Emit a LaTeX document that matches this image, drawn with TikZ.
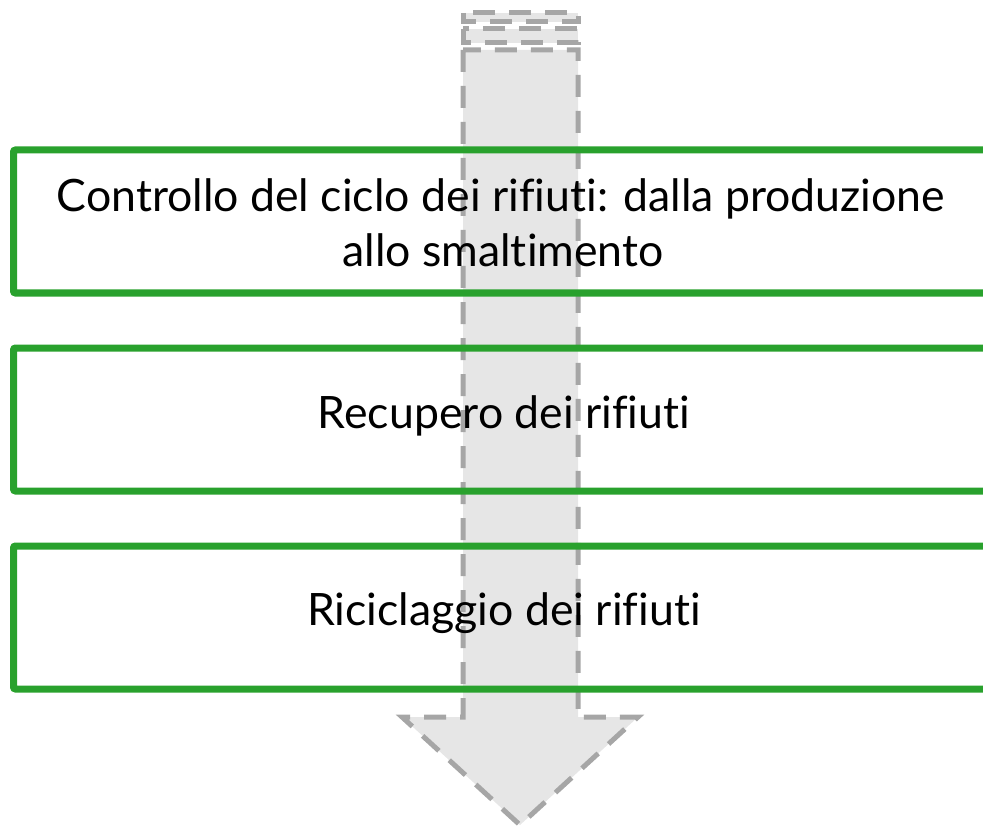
\documentclass[tikz,border=0pt]{standalone}
\usepackage{fontspec}
\setmainfont{Lato}[Ligatures={NoCommon,NoRare}]
\definecolor{boxgreen}{RGB}{41,161,45}
\definecolor{arrowfill}{RGB}{230,230,230}
\definecolor{arrowline}{RGB}{166,166,166}
\tikzset{
  stepbox/.style={draw=boxgreen, line width=7pt, rounded corners=2pt, minimum width=979pt, minimum height=143pt, anchor=north west, inner sep=0pt, outer sep=0pt},
  lbl/.style={anchor=base, inner sep=0pt, text=black, font=\fontsize{44.6}{55}\selectfont},
  arrowshape/.style={fill=arrowfill, draw=arrowline, line width=5pt, dash pattern=on 22pt off 14pt}
}
\begin{document}
\begin{tikzpicture}[x=1pt,y=-1pt]
\useasboundingbox (0,0) rectangle (983,829);
\clip (0,0) rectangle (983,829);
% striped down arrow
\draw[arrowshape] (463,13) rectangle (578,22);
\draw[arrowshape] (463,29) rectangle (578,43);
\draw[arrowshape] (463,50) -- (463,717) -- (402,717) -- (520,825) -- (638,717) -- (578,717) -- (578,50) -- cycle;
% boxes
\node[stepbox] (b1) at (13.5,150) {};
\node[stepbox] (b2) at (13.5,348) {};
\node[stepbox] (b3) at (13.5,546) {};
% labels
\node[lbl] (t1a) at (501,212) {Controllo del ciclo dei rifiuti: dalla produzione};
\node[lbl] (t1b) at (503,267) {allo smaltimento};
\node[lbl] (t2) at (504,428) {Recupero dei rifiuti};
\node[lbl] (t3) at (504,625) {Riciclaggio dei rifiuti};
\end{tikzpicture}
\end{document}
